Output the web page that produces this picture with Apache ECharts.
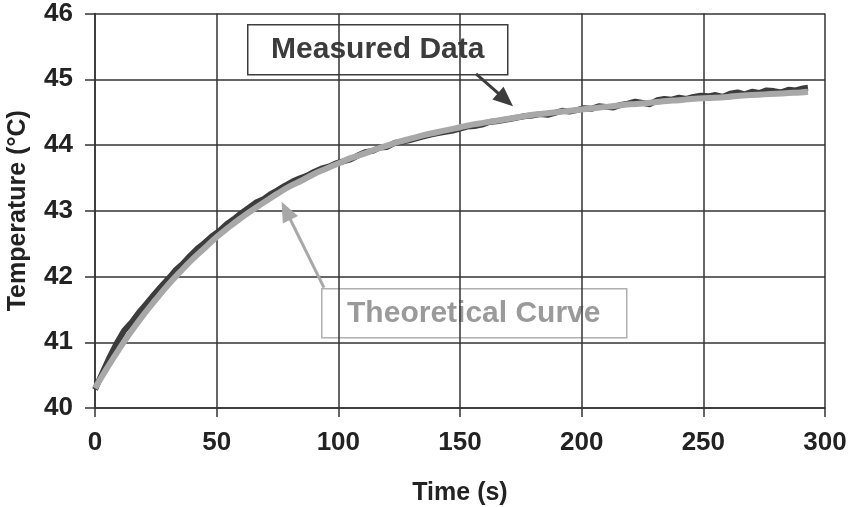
<!DOCTYPE html>
<html>
<head>
<meta charset="utf-8">
<script src="https://cdn.jsdelivr.net/npm/echarts@6/dist/echarts.min.js"></script>
<style>html,body{margin:0;padding:0;background:#fff}#c{width:854px;height:507px}</style>
</head>
<body>
<div id="c"></div>
<script>
// Theoretical curve (s, °C)
var theoryTime = [0,5,10,15,20,25,30,35,40,45,50,55,60,65,70,75,80,85,90,95,100,105,110,115,120,125,130,135,140,145,150,155,160,165,170,175,180,185,190,195,200,205,210,215,220,225,230,235,240,245,250,255,260,265,270,275,280,285,290,293];
var theoryTemp = [40.30,40.61,40.90,41.17,41.42,41.65,41.87,42.07,42.26,42.43,42.60,42.75,42.89,43.02,43.14,43.26,43.37,43.46,43.56,43.64,43.72,43.80,43.86,43.93,43.99,44.05,44.10,44.15,44.19,44.23,44.27,44.31,44.34,44.37,44.40,44.43,44.46,44.48,44.50,44.52,44.54,44.56,44.58,44.60,44.62,44.63,44.65,44.67,44.68,44.70,44.71,44.72,44.73,44.75,44.76,44.77,44.78,44.79,44.80,44.81];
// Measured data (s, °C)
var measTime = [0,3,6,9,12,15,18,21,24,27,30,33,36,39,42,45,48,51,54,57,60,63,66,69,72,75,78,81,84,87,90,93,96,99,102,105,108,111,114,117,120,123,126,129,132,135,138,141,144,147,150,153,156,159,162,165,168,171,174,177,180,183,186,189,192,195,198,201,204,207,210,213,216,219,222,225,228,231,234,237,240,243,246,249,252,255,258,261,264,267,270,273,276,279,282,285,288,291,293];
var measTemp = [40.28,40.53,40.77,40.99,41.18,41.30,41.45,41.58,41.71,41.84,41.96,42.09,42.19,42.31,42.42,42.51,42.61,42.69,42.79,42.87,42.96,43.04,43.12,43.17,43.25,43.31,43.38,43.44,43.49,43.53,43.59,43.64,43.67,43.72,43.75,43.78,43.84,43.89,43.91,43.96,43.97,44.03,44.05,44.07,44.10,44.13,44.16,44.18,44.20,44.22,44.25,44.28,44.29,44.31,44.35,44.36,44.38,44.40,44.42,44.44,44.45,44.47,44.46,44.49,44.52,44.51,44.53,44.56,44.55,44.59,44.58,44.57,44.61,44.63,44.66,44.64,44.62,44.68,44.70,44.69,44.72,44.70,44.73,44.75,44.74,44.76,44.73,44.78,44.80,44.77,44.81,44.79,44.83,44.82,44.80,44.84,44.83,44.86,44.87];
var xTicks = [0,50,100,150,200,250,300];
var yTicks = [40,41,42,43,44,45,46];
var measLabel = 'Measured Data';
var theoryLabel = 'Theoretical Curve';
// annotation arrows in data units: [start, end]
var measArrow = [[156.6,45.08],[168.7,44.69]];
var theoryArrow = [[94.1,41.83],[78.5,43.00]];

function pairs(a,b){var r=[];for(var i=0;i<a.length;i++)r.push([a[i],b[i]]);return r;}

var FONT = "'Liberation Sans', Arial, sans-serif";
var chart = echarts.init(document.getElementById('c'), null, {renderer:'canvas'});
chart.setOption({
  animation:false,
  backgroundColor:'#fff',
  grid:{left:95,right:29,top:13.5,bottom:99,containLabel:false,outerBoundsMode:'none'},
  xAxis:{
    type:'value',min:xTicks[0],max:xTicks[xTicks.length-1],interval:50,
    name:'Time (s)',nameLocation:'middle',nameGap:73,
    nameTextStyle:{fontFamily:FONT,fontWeight:'bold',fontSize:25,color:'#222'},
    axisLine:{show:true,lineStyle:{color:'#333',width:1.5}},
    axisTick:{show:true,inside:false,length:9,lineStyle:{color:'#333',width:1.5}},
    axisLabel:{fontFamily:FONT,fontWeight:'bold',fontSize:26,color:'#222',margin:22},
    splitLine:{show:true,lineStyle:{color:'#333',width:1.5}}
  },
  yAxis:{
    type:'value',min:yTicks[0],max:yTicks[yTicks.length-1],interval:1,
    name:'Temperature (°C)',nameLocation:'middle',nameGap:64,
    nameTextStyle:{fontFamily:FONT,fontWeight:'bold',fontSize:25,color:'#222'},
    axisLine:{show:true,lineStyle:{color:'#333',width:1.5}},
    axisTick:{show:true,inside:false,length:10,lineStyle:{color:'#333',width:1.5}},
    axisLabel:{fontFamily:FONT,fontWeight:'bold',fontSize:26,color:'#222',margin:22},
    splitLine:{show:true,lineStyle:{color:'#333',width:1.5}}
  },
  series:[
    {
      name:measLabel,type:'line',data:pairs(measTime,measTemp),
      showSymbol:false,symbol:'none',smooth:false,
      lineStyle:{color:'#3c3c3c',width:6},z:3,
      markLine:{
        silent:true,symbol:['none','triangle'],symbolSize:[17,20],
        label:{show:false},
        lineStyle:{color:'#3c3c3c',width:3,type:'solid'},
        data:[[{coord:measArrow[0]},{coord:measArrow[1]}]]
      }
    },
    {
      name:theoryLabel,type:'line',data:pairs(theoryTime,theoryTemp),
      showSymbol:false,symbol:'none',smooth:true,
      lineStyle:{color:'#a8a8a8',width:6},z:4,
      markLine:{
        silent:true,symbol:['none','triangle'],symbolSize:[17,20],
        label:{show:false},
        lineStyle:{color:'#a8a8a8',width:3,type:'solid'},
        data:[[{coord:theoryArrow[0]},{coord:theoryArrow[1]}]]
      }
    }
  ],
  graphic:[
    {type:'group',left:247,top:24,z:100,children:[
      {type:'rect',shape:{x:0,y:0,width:260,height:50},style:{fill:'#fff',stroke:'#3c3c3c',lineWidth:1.5}},
      {type:'text',x:130,y:25,style:{text:measLabel,fill:'#3c3c3c',font:"bold 30px 'Liberation Sans', Arial, sans-serif",textAlign:'center',textVerticalAlign:'middle'}}
    ]},
    {type:'group',left:321,top:288,z:100,children:[
      {type:'rect',shape:{x:0,y:0,width:305,height:49},style:{fill:'#fff',stroke:'#b0b0b0',lineWidth:1.5}},
      {type:'text',x:152,y:25,style:{text:theoryLabel,fill:'#9a9a9a',font:"bold 30px 'Liberation Sans', Arial, sans-serif",textAlign:'center',textVerticalAlign:'middle'}}
    ]}
  ]
});
</script>
</body>
</html>
